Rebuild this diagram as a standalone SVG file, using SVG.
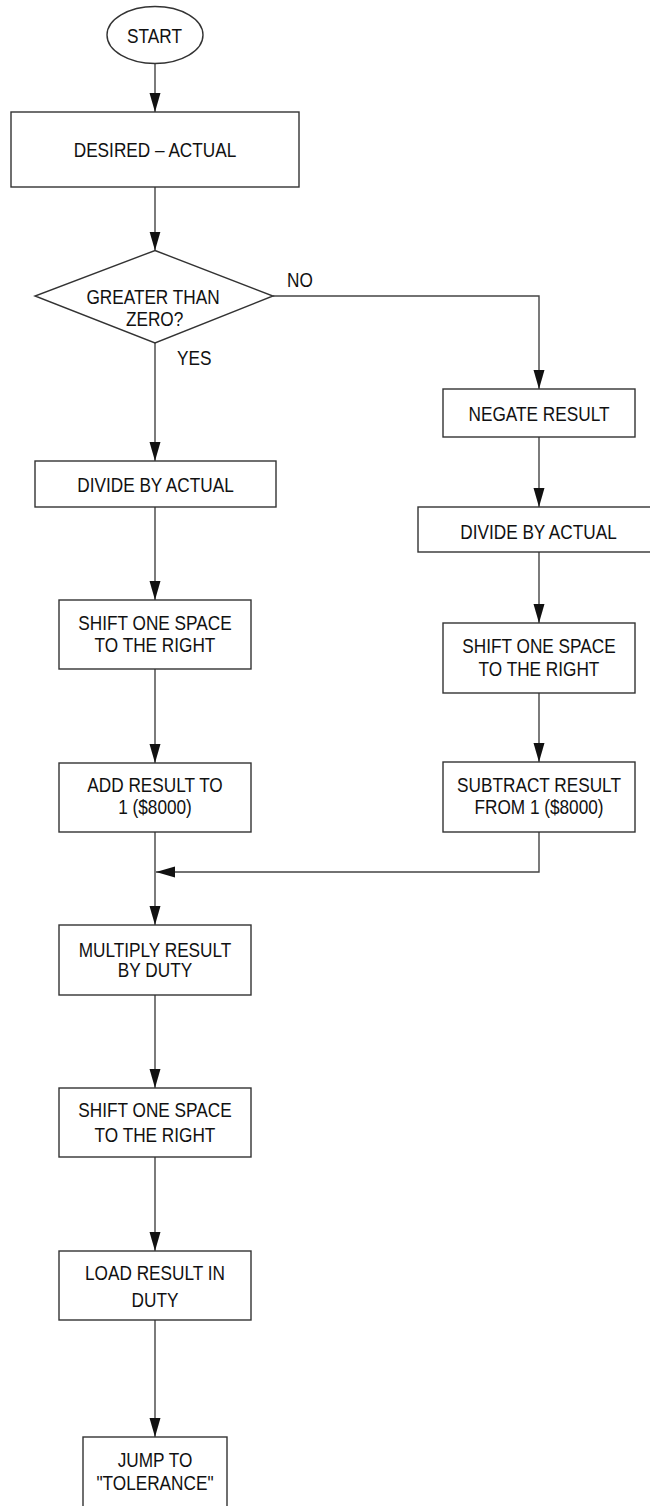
<svg xmlns="http://www.w3.org/2000/svg" width="650" height="1506" viewBox="0 0 650 1506">
<style>
.shape { fill: #ffffff; stroke: #333333; stroke-width: 1.4; }
.conn { fill: none; stroke: #444444; stroke-width: 1.4; }
text { font-family: "Liberation Sans", Arial, Helvetica, sans-serif; font-size: 21px; fill: #111111; text-anchor: middle; }
text.lbl { text-anchor: start; }
</style>
<defs>
<marker id="arrow" markerUnits="userSpaceOnUse" markerWidth="20" markerHeight="12" refX="19" refY="5.5" orient="auto">
<path d="M0,0 L19,5.5 L0,11 Z" fill="#111111"/>
</marker>
</defs>
<rect x="0" y="0" width="650" height="1506" fill="#ffffff"/>

<g id="connectors">
<line class="conn" x1="155" y1="63.5" x2="155" y2="112" marker-end="url(#arrow)"/>
<line class="conn" x1="155" y1="187" x2="155" y2="250.5" marker-end="url(#arrow)"/>
<line class="conn" x1="155" y1="343" x2="155" y2="461" marker-end="url(#arrow)"/>
<polyline class="conn" points="273,296 539,296 539,389" marker-end="url(#arrow)"/>
<line class="conn" x1="539" y1="437" x2="539" y2="507" marker-end="url(#arrow)"/>
<line class="conn" x1="539" y1="552" x2="539" y2="623" marker-end="url(#arrow)"/>
<line class="conn" x1="539" y1="693" x2="539" y2="762" marker-end="url(#arrow)"/>
<line class="conn" x1="155" y1="507" x2="155" y2="600" marker-end="url(#arrow)"/>
<line class="conn" x1="155" y1="669" x2="155" y2="763" marker-end="url(#arrow)"/>
<line class="conn" x1="155" y1="832" x2="155" y2="925" marker-end="url(#arrow)"/>
<polyline class="conn" points="539,832 539,872 156,872" marker-end="url(#arrow)"/>
<line class="conn" x1="155" y1="995" x2="155" y2="1088" marker-end="url(#arrow)"/>
<line class="conn" x1="155" y1="1157" x2="155" y2="1251" marker-end="url(#arrow)"/>
<line class="conn" x1="155" y1="1320" x2="155" y2="1437" marker-end="url(#arrow)"/>
</g>

<g id="start">
<ellipse class="shape" cx="155" cy="35" rx="48" ry="28.5"/>
<g transform="translate(154.5 0) scale(0.82 1)"><text x="0" y="43">START</text></g>
</g>

<g id="desired-actual">
<rect class="shape" x="11" y="112" width="288" height="75"/>
<g transform="translate(155 0) scale(0.82 1)"><text x="0" y="157">DESIRED – ACTUAL</text></g>
</g>

<g id="greater-than-zero">
<polygon class="shape" points="155,250.5 273,296 155,343 35,296"/>
<g transform="translate(153 0) scale(0.82 1)"><text x="0" y="304">GREATER THAN</text><text x="2" y="326">ZERO?</text></g>
</g>

<g id="label-no">
<g transform="translate(287 0) scale(0.82 1)"><text class="lbl" x="0" y="287">NO</text></g>
</g>
<g id="label-yes">
<g transform="translate(177 0) scale(0.82 1)"><text class="lbl" x="0" y="365">YES</text></g>
</g>

<g id="divide-left">
<rect class="shape" x="35" y="461" width="241" height="46"/>
<g transform="translate(155.5 0) scale(0.82 1)"><text x="0" y="492">DIVIDE BY ACTUAL</text></g>
</g>

<g id="shift-left">
<rect class="shape" x="59" y="600" width="192" height="69"/>
<g transform="translate(155 0) scale(0.82 1)"><text x="0" y="630">SHIFT ONE SPACE</text><text x="0" y="652">TO THE RIGHT</text></g>
</g>

<g id="add-result">
<rect class="shape" x="59" y="763" width="192" height="69"/>
<g transform="translate(155 0) scale(0.82 1)"><text x="0" y="792">ADD RESULT TO</text><text x="0" y="814">1 ($8000)</text></g>
</g>

<g id="negate">
<rect class="shape" x="443" y="389" width="192" height="48"/>
<g transform="translate(539 0) scale(0.82 1)"><text x="0" y="421">NEGATE RESULT</text></g>
</g>

<g id="divide-right">
<rect class="shape" x="418" y="507" width="241" height="45"/>
<g transform="translate(538.5 0) scale(0.82 1)"><text x="0" y="539">DIVIDE BY ACTUAL</text></g>
</g>

<g id="shift-right">
<rect class="shape" x="443" y="623" width="192" height="70"/>
<g transform="translate(539 0) scale(0.82 1)"><text x="0" y="653">SHIFT ONE SPACE</text><text x="0" y="676">TO THE RIGHT</text></g>
</g>

<g id="subtract-result">
<rect class="shape" x="443" y="762" width="192" height="70"/>
<g transform="translate(539 0) scale(0.82 1)"><text x="0" y="792">SUBTRACT RESULT</text><text x="0" y="814">FROM 1 ($8000)</text></g>
</g>

<g id="multiply">
<rect class="shape" x="59" y="925" width="192" height="70"/>
<g transform="translate(155 0) scale(0.82 1)"><text x="0" y="957">MULTIPLY RESULT</text><text x="0" y="977">BY DUTY</text></g>
</g>

<g id="shift-2">
<rect class="shape" x="59" y="1088" width="192" height="69"/>
<g transform="translate(155 0) scale(0.82 1)"><text x="0" y="1117">SHIFT ONE SPACE</text><text x="0" y="1142">TO THE RIGHT</text></g>
</g>

<g id="load-result">
<rect class="shape" x="59" y="1251" width="192" height="69"/>
<g transform="translate(155 0) scale(0.82 1)"><text x="0" y="1280">LOAD RESULT IN</text><text x="0" y="1307">DUTY</text></g>
</g>

<g id="jump">
<rect class="shape" x="83" y="1437" width="144" height="75"/>
<g transform="translate(155 0) scale(0.82 1)"><text x="0" y="1467">JUMP TO</text><text x="0" y="1490">"TOLERANCE"</text></g>
</g>
</svg>
